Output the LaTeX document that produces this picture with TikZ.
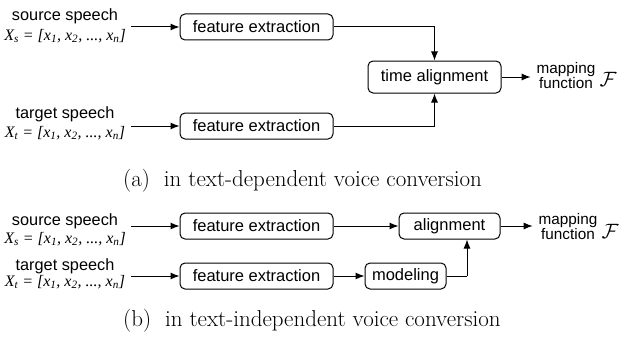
\documentclass[tikz,border=0pt]{standalone}
\usepackage{fontspec}
\newfontfamily\arialf{Liberation Sans}
\newfontfamily\tmsf{Liberation Serif}
\usetikzlibrary{arrows.meta}
\newcommand{\vecx}[1]{{\tmsf\itshape X\textsubscript{#1} = [x\textsubscript{1}, x\textsubscript{2}, ..., x\textsubscript{n}]}}
\begin{document}
\begin{tikzpicture}[x=1pt,y=-1pt,
  box/.style={draw, rounded corners=5pt, line width=1pt, font=\fontsize{16.5}{18}\arialf, inner sep=0pt, minimum height=26pt},
  lbl/.style={font=\fontsize{16.3}{17}\arialf, inner sep=0pt},
  mlbl/.style={font=\fontsize{15.3}{15}\arialf, inner ysep=0pt, inner xsep=0pt, outer xsep=6pt, align=center},
  frm/.style={font=\fontsize{16}{18}\selectfont, inner sep=0pt},
  calf/.style={font=\fontsize{22}{24}\selectfont, inner sep=0pt},
  arr/.style={-{Latex[length=9pt,width=7pt]}, line width=1pt},
  ln/.style={line width=1pt},
  captxt/.style={font=\fontsize{23}{26}\selectfont, inner sep=0pt, anchor=west}]
\useasboundingbox (0,0) rectangle (623,337);
% ---- (a)
\node[lbl] (src1) at (65,16.5) {source speech};
\node[frm] (fs1) at (65,36) {\vecx{s}};
\coordinate (s1) at (131,27);
\node[box, minimum width=153pt] (fe1) at (256.5,27) {feature extraction};
\node[lbl] (tgt1) at (65,114) {target speech};
\node[frm] (ft1) at (65,133) {\vecx{t}};
\coordinate (s2) at (131,126);
\node[box, minimum width=153pt] (fe2) at (256.5,126) {feature extraction};
\node[box, minimum width=133pt, minimum height=32pt] (ta) at (434.5,77) {time alignment};
\node[mlbl] (map1) at (566,76) {mapping\\function};
\node[calf] (F1) at (608,79) {$\mathcal{F}$};
\draw[arr] (s1) -- (fe1.west);
\draw[arr] (s2) -- (fe2.west);
\draw[arr] (fe1.east) -| (ta.north);
\draw[arr] (fe2.east) -| (ta.south);
\draw[arr] (ta.east) -- (map1.west |- ta.east);
\node[captxt] (ca) at (123,181) {(a)\ \ in text-dependent voice conversion};
% ---- (b)
\node[lbl] (src2) at (65,221.5) {source speech};
\node[frm] (fs2) at (65,239) {\vecx{s}};
\coordinate (s3) at (131,226);
\node[box, minimum width=153pt] (fe3) at (256.5,226) {feature extraction};
\node[box, minimum width=101pt] (al) at (449.5,226) {alignment};
\node[mlbl] (map2) at (568,227) {mapping\\function};
\node[calf] (F2) at (610,231) {$\mathcal{F}$};
\node[lbl] (tgt2) at (65,266) {target speech};
\node[frm] (ft2) at (65,282) {\vecx{t}};
\coordinate (s4) at (131,276);
\node[box, minimum width=153pt] (fe4) at (256.5,276) {feature extraction};
\node[box, minimum width=81pt] (mod) at (405.5,276) {modeling};
\coordinate (j) at (467,276);
\draw[arr] (s3) -- (fe3.west);
\draw[arr] (s4) -- (fe4.west);
\draw[arr] (fe3.east) -- (al.west);
\draw[arr] (al.east) -- (map2.west |- al.east);
\draw[arr] (fe4.east) -- (mod.west);
\draw[ln] (mod.east) -- (j);
\draw[arr] (j) -- (al.south -| j);
\node[captxt] (cb) at (123,321) {(b)\ \ in text-independent voice conversion};
\end{tikzpicture}
\end{document}
